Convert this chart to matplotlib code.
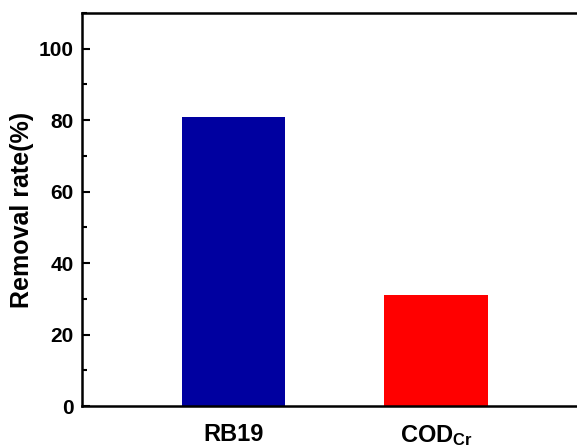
import matplotlib
matplotlib.use("Agg")
import matplotlib.pyplot as plt
from matplotlib.ticker import MultipleLocator

categories = ["RB19", r"COD$_{\mathbf{Cr}}$"]
removal = [80.8, 31.1]
colors = ["#0000A0", "#FF0000"]

plt.rcParams["font.family"] = "Liberation Sans"
plt.rcParams["font.weight"] = "bold"
plt.rcParams["mathtext.fontset"] = "custom"
plt.rcParams["mathtext.rm"] = "Liberation Sans:bold"
plt.rcParams["mathtext.bf"] = "Liberation Sans:bold"
plt.rcParams["mathtext.it"] = "Liberation Sans:bold"

fig = plt.figure(figsize=(5.77, 4.45), dpi=100)
ax = fig.add_axes([0.1421, 0.0876, 0.8579, 0.8832])

x = range(len(categories))
ax.bar(x, removal, width=0.51, color=colors)

ax.set_xlim(-0.748, 1.696)
ax.set_ylim(0, 110)
ax.set_xticks(list(x))
ax.set_xticklabels(categories, fontsize=17, fontweight="bold")
ax.tick_params(axis="x", length=0, pad=12)

ax.yaxis.set_major_locator(MultipleLocator(20))
ax.yaxis.set_minor_locator(MultipleLocator(10))
ax.tick_params(axis="y", which="major", direction="in", length=6, width=1.5,
               labelsize=15, pad=6)
ax.tick_params(axis="y", which="minor", direction="in", length=3.5, width=1.5)
for lbl in ax.get_yticklabels():
    lbl.set_fontweight("bold")

ax.set_ylabel("Removal rate(%)", fontsize=18, fontweight="bold", labelpad=3)

for s in ["left", "top", "bottom"]:
    ax.spines[s].set_linewidth(1.8)
ax.spines["right"].set_visible(False)

fig.savefig("out.png", dpi=100)
